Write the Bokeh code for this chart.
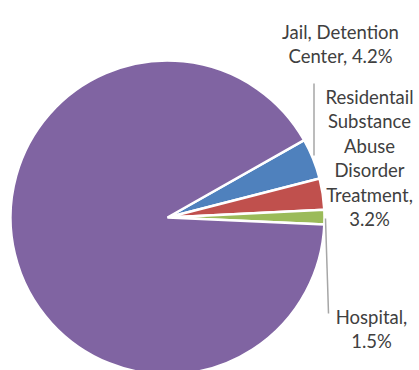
import math
from bokeh.plotting import figure
from bokeh.models import Range1d, ColumnDataSource
from bokeh.core.properties import value
from bokeh.embed import file_html
from bokeh.resources import INLINE

# ---- data ----
categories = ["Jail, Detention Center", "Residentail Substance Abuse Disorder Treatment", "Hospital", "Other"]
shares = [4.2, 3.2, 1.5, 91.1]
colors = ["#4F81BD", "#C0504D", "#9BBB59", "#8064A2"]
label_lines = [
    ["Jail, Detention", "Center, 4.2%"],
    ["Residentail", "Substance", "Abuse", "Disorder", "Treatment,", "3.2%"],
    ["Hospital,", "1.5%"],
    [],
]

W, H = 419, 370
p = figure(width=W, height=H, output_backend="svg", toolbar_location=None,
           x_range=Range1d(0, W), y_range=Range1d(0, H), min_border=0)
p.axis.visible = False
p.grid.visible = False
p.outline_line_color = None
p.background_fill_color = "white"
p.border_fill_color = "white"

def px(x):  # page px -> data
    return x
def py(y):
    return H - y

cx, cy, r = px(167), py(217), 157
first_angle = 29.5  # degrees, counterclockwise from +x, top edge of first slice

starts, ends = [], []
cum = 0.0
for s in shares:
    e = math.radians(first_angle - cum * 3.6)
    cum += s
    st = math.radians(first_angle - cum * 3.6)
    starts.append(st)
    ends.append(e)

src = ColumnDataSource(dict(start=starts, end=ends, color=colors))
p.wedge(x=cx, y=cy, radius=r, start_angle="start", end_angle="end",
        fill_color="color", line_color="white", line_width=2.5, source=src)

# leader lines
lead_x = [[px(313.5), px(313.5)], [px(325), px(328)]]
lead_y = [[py(83), py(155)], [py(218), py(313)]]
p.multi_line(xs=lead_x, ys=lead_y, line_color="#A6A6A6", line_width=1.5)

# labels
label_pos = [(340, 31), (369, 96), (371, 316)]
pitch = 24.5
tx, ty, tt = [], [], []
for lines, pos in zip(label_lines, label_pos):
    for i, line in enumerate(lines):
        tx.append(px(pos[0]))
        ty.append(py(pos[1] + i * pitch))
        tt.append(line)
p.text(x=tx, y=ty, text=tt, text_font=value("Lato"), text_font_size="18.5px",
       text_color="#404040", text_align="center", text_baseline="alphabetic")

open("out.html", "w").write(file_html(p, INLINE))
